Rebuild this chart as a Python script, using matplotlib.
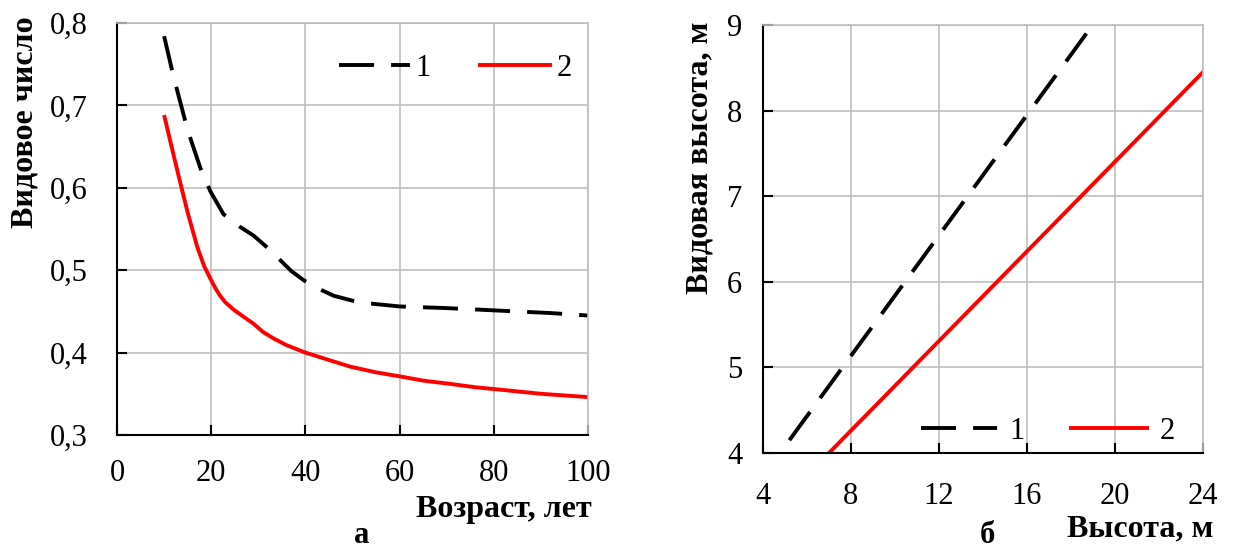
import matplotlib
matplotlib.use("Agg")
from matplotlib import pyplot as plt
from matplotlib.ticker import FuncFormatter

plt.rcParams['font.family'] = ['Liberation Serif', 'DejaVu Serif']

# Panel a: form factor vs age
age1 = [10, 12, 15, 17.7, 19.8, 22.6, 26, 29, 32, 34.7, 37, 39.6, 43, 46, 50, 53, 60, 70, 81, 92, 100]
ff1 = [0.784, 0.735, 0.67, 0.624, 0.596, 0.568, 0.553, 0.542, 0.527, 0.512, 0.499, 0.488, 0.477, 0.469, 0.463, 0.460, 0.456, 0.454, 0.451, 0.448, 0.445]
age2 = [10.1, 12, 13.4, 15, 17, 18.5, 19.8, 21, 21.9, 23, 24.8, 27, 29, 31, 33.3, 36, 40, 45, 49.5, 55, 60.2, 65, 70.8, 76, 81.4, 90, 100]
ff2 = [0.686, 0.640, 0.607, 0.570, 0.529, 0.505, 0.490, 0.477, 0.469, 0.461, 0.452, 0.443, 0.435, 0.425, 0.417, 0.409, 0.400, 0.391, 0.383, 0.376, 0.371, 0.366, 0.362, 0.358, 0.355, 0.350, 0.346]

# Panel b: form height vs height
h1 = [5.2, 18.7]
fh1 = [4.15, 8.9]
h2 = [7.0, 24.0]
fh2 = [4.0, 8.45]

fig = plt.figure(figsize=(12.34, 5.53), dpi=100)
ax1 = fig.add_axes([117/1234, 118/553, 471/1234, 412/553])
ax2 = fig.add_axes([763/1234, 100/553, 440/1234, 428/553])

grey = '#bfbfbf'
lw = 2.8
dash = (0, (9, 4.4))

def style(ax):
    ax.grid(True, color=grey, linewidth=1.2)
    ax.set_axisbelow(True)
    for s in ['top', 'right']:
        ax.spines[s].set_color(grey)
        ax.spines[s].set_linewidth(1.2)
    for s in ['left', 'bottom']:
        ax.spines[s].set_color('black')
        ax.spines[s].set_linewidth(1.5)
    ax.tick_params(direction='in', length=7, width=1.5, labelsize=22)

ax1.plot(age1, ff1, color='black', linewidth=lw, linestyle=dash, label='1')
ax1.plot(age2, ff2, color='#ff0000', linewidth=lw, label='2')
ax1.set_xlim(0, 100)
ax1.set_ylim(0.3, 0.8)
ax1.set_xticks(range(0, 101, 20))
ax1.set_yticks([0.3, 0.4, 0.5, 0.6, 0.7, 0.8])
ax1.yaxis.set_major_formatter(FuncFormatter(lambda v, p: ('%.1f' % v).replace('.', ',')))
style(ax1)
ax1.tick_params(axis='x', pad=17)
ax1.tick_params(axis='y', pad=21)
ax1.legend(loc='center right', bbox_to_anchor=(0.965, 0.89), ncol=2, frameon=False,
           fontsize=22, handlelength=2.3, handletextpad=0.2, columnspacing=1.6,
           borderpad=0, borderaxespad=0)

ax2.plot(h1, fh1, color='black', linewidth=lw, linestyle=dash, label='1')
ax2.plot(h2, fh2, color='#ff0000', linewidth=lw, label='2')
ax2.set_xlim(4, 24)
ax2.set_ylim(4, 9)
ax2.set_xticks(range(4, 25, 4))
ax2.set_yticks(range(4, 10))
style(ax2)
ax2.tick_params(axis='x', pad=21)
ax2.tick_params(axis='y', pad=15)
ax2.legend(loc='center right', bbox_to_anchor=(0.935, 0.05), ncol=2, frameon=False,
           fontsize=22, handlelength=2.5, handletextpad=0.4, columnspacing=1.5,
           borderpad=0, borderaxespad=0)

# axis titles and panel letters
fig.text(592/1234, 1 - 510/553, 'Возраст, лет', ha='right', va='center', fontsize=23, fontweight='bold')
fig.text(25/1234, 1 - 16/553, 'Видовое число', ha='center', va='top', rotation=90, fontsize=23, fontweight='bold')
fig.text(362/1234, 3/553, 'а', ha='center', va='bottom', fontsize=22, fontweight='bold')
fig.text(1213/1234, 1 - 529/553, 'Высота, м', ha='right', va='center', fontsize=23, fontweight='bold')
fig.text(700/1234, 1 - 22/553, 'Видовая высота, м', ha='center', va='top', rotation=90, fontsize=23, fontweight='bold')
fig.text(987/1234, 3/553, 'б', ha='center', va='bottom', fontsize=22, fontweight='bold')

fig.savefig('out.png', dpi=100)
